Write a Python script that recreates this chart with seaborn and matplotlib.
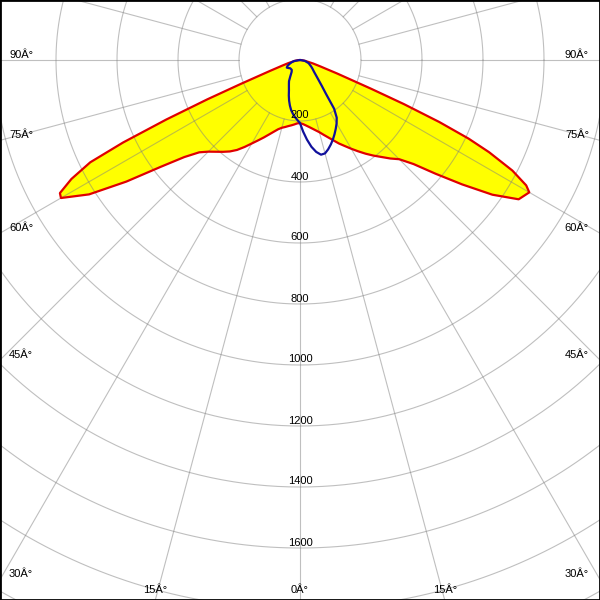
import numpy as np
import pandas as pd
import matplotlib
matplotlib.use("Agg")
import matplotlib.pyplot as plt
import seaborn as sns

# luminous intensity (cd) against gamma angle (deg), four half planes
gamma_c0 = [0, 2.5, 5, 7.5, 10, 12.5, 15, 17.5, 20, 22.5, 25, 27.5, 30, 32.5, 35, 37.5,
            40, 42.5, 45, 47.5, 50, 52.5, 55, 57.5, 60, 61, 62.5, 64, 65, 66, 67, 68,
            70, 72.5, 75, 80, 85, 90]
i_c0 = [207, 210, 215, 221, 228, 236, 245, 257, 270, 285, 302, 318, 336, 355, 375, 395,
        415, 438, 460, 505, 580, 670, 770, 850, 868, 848, 785, 690, 610, 500, 370, 250,
        130, 70, 45, 18, 7, 0]

gamma_c180 = [0, 2.5, 5, 7.5, 10, 12.5, 15, 17.5, 20, 22.5, 25, 27.5, 30, 32.5, 35, 37.5,
              40, 42.5, 45, 47.5, 50, 52.5, 55, 57.5, 60, 61, 62.5, 64, 65, 66, 67, 68,
              70, 72.5, 75, 80, 85, 90]
i_c180 = [207, 208, 212, 216, 220, 225, 230, 238, 250, 264, 280, 297, 316, 338, 360, 378,
          393, 408, 425, 448, 495, 575, 695, 820, 905, 900, 845, 765, 640, 480, 330, 210,
          105, 60, 40, 18, 7, 0]

gamma_c90 = [0, 2.5, 5, 7.5, 10, 12.5, 15, 17.5, 20, 22.5, 25, 27.5, 30, 32.5, 35, 37.5,
             40, 42.5, 45, 50, 55, 60, 70, 80, 90]
i_c90 = [207, 235, 262, 287, 306, 318, 317, 307, 295, 282, 268, 254, 240, 224, 195, 140,
         112, 92, 78, 60, 50, 42, 30, 16, 0]

gamma_c270 = [0, 2.5, 5, 7.5, 10, 12.5, 15, 17.5, 20, 22.5, 25, 27.5, 30, 35, 40, 50,
              55, 60, 65, 70, 75, 80, 90]
i_c270 = [207, 197, 188, 178, 167, 153, 138, 122, 106, 95, 86, 78, 65, 48, 42, 42,
          46, 50, 45, 36, 28, 20, 0]

ring_values = [200, 400, 600, 800, 1000, 1200, 1400, 1600, 1800, 2000]
ring_labels = ["200", "400", "600", "800", "1000", "1200", "1400", "1600"]
angle_ticks = [0, 15, 30, 45, 60, 75, 90]
angle_labels = ["0Â°", "15Â°", "30Â°", "45Â°", "60Â°", "75Â°", "90Â°"]


def plane_xy(g_left, i_left, g_right, i_right):
    g = np.concatenate([-np.array(g_left[::-1], float), np.array(g_right, float)])
    r = np.concatenate([np.array(i_left[::-1], float), np.array(i_right, float)])
    rad = np.deg2rad(g)
    return pd.DataFrame({"x": r * np.sin(rad), "y": -r * np.cos(rad)})


red = plane_xy(gamma_c180, i_c180, gamma_c0, i_c0)
blue = plane_xy(gamma_c270, i_c270, gamma_c90, i_c90)

sns.set_theme(style="white")
plt.rcParams["font.family"] = ["Liberation Sans", "DejaVu Sans"]

fig = plt.figure(figsize=(6, 6), dpi=100)
ax = fig.add_axes([0, 0, 1, 1])

# 1 pixel in candela (ring of 200 cd is 61 px)
k = 200 / 61.0
half_w = 300 * k
top = 60 * k
bottom = -540 * k
ax.set_xlim(-half_w, half_w)
ax.set_ylim(bottom, top)
ax.set_aspect("equal")

ax.fill(red["x"], red["y"], color="#ffff00", zorder=1, lw=0)

# grid
t = np.linspace(0, 2 * np.pi, 721)
for rv in ring_values:
    ax.plot(rv * np.cos(t), rv * np.sin(t), color="#808080", alpha=0.5, lw=0.8, zorder=2)
for a in range(0, 360, 15):
    ar = np.deg2rad(a)
    ax.plot([200 * np.sin(ar), 2300 * np.sin(ar)], [-200 * np.cos(ar), -2300 * np.cos(ar)],
            color="#808080", alpha=0.5, lw=0.8, zorder=2)

sns.lineplot(data=red, x="x", y="y", sort=False, estimator=None, color="#e00000",
             lw=1.6, ax=ax, zorder=3)
sns.lineplot(data=blue, x="x", y="y", sort=False, estimator=None, color="#10109c",
             lw=1.6, ax=ax, zorder=4)

for rv, lab in zip(ring_values, ring_labels):
    ax.text(0, -rv + 2.5 * k, lab, ha="center", va="baseline", fontsize=8,
            color="black", zorder=5)

for a, lab in zip(angle_ticks, angle_labels):
    ar = np.deg2rad(a)
    t_bot = -bottom / np.cos(ar) if a < 90 else np.inf
    t_side = half_w / np.sin(ar) if a > 0 else np.inf
    for s in ([1, -1] if a > 0 else [1]):
        if t_side < t_bot:
            y = -t_side * np.cos(ar) + 2.5 * k
            if s < 0:
                ax.text(-half_w + 9 * k, y, lab, ha="left", va="baseline", fontsize=8,
                        color="black", zorder=5)
            else:
                ax.text(half_w - 11 * k, y, lab, ha="right", va="baseline", fontsize=8,
                        color="black", zorder=5)
        else:
            x = s * t_bot * np.sin(ar)
            ax.text(x, bottom + 7 * k, lab, ha="center", va="baseline", fontsize=8,
                    color="black", zorder=5)

ax.set_xticks([])
ax.set_yticks([])
ax.set_xlabel("")
ax.set_ylabel("")
for sp in ax.spines.values():
    sp.set_visible(True)
    sp.set_color("black")
    sp.set_linewidth(2)

fig.savefig("out.png", dpi=100)
